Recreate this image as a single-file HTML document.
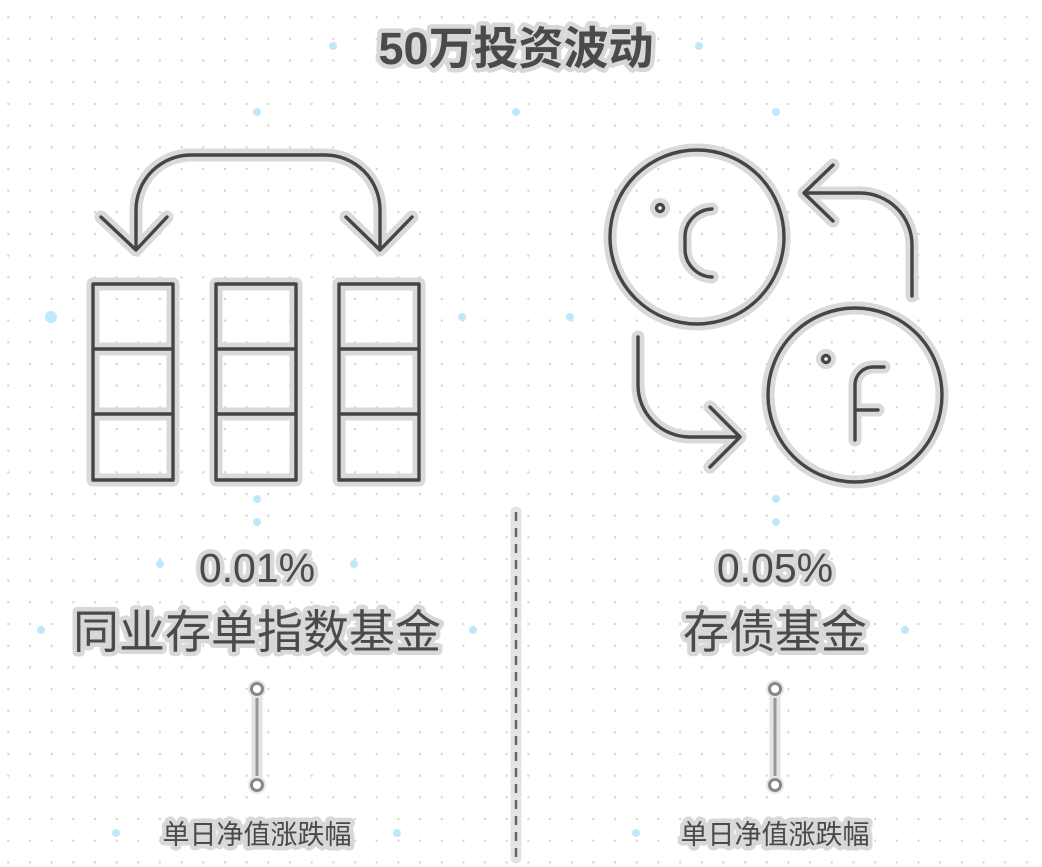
<!DOCTYPE html>
<html><head><meta charset="utf-8"><style>
html,body{margin:0;padding:0;background:#fff;}
svg{display:block}
text{font-family:"Liberation Sans","Noto Sans CJK SC",sans-serif;fill:#4a4a4a;stroke:#d8d8d8;stroke-width:9px;paint-order:stroke;stroke-linejoin:round;text-anchor:middle}
.h{fill:none;stroke:#d9d9d9;stroke-width:13;stroke-linecap:round;stroke-linejoin:round}
.s{fill:none;stroke:#454545;stroke-width:3.4;stroke-linecap:round;stroke-linejoin:round}
</style></head><body>
<svg width="1042" height="867" viewBox="0 0 1042 867">
<defs><pattern id="g" x="8.3" y="-4.4" width="21.67" height="21.67" patternUnits="userSpaceOnUse"><circle cx="0" cy="0" r="1.2" fill="#d4d4d4"/><circle cx="21.67" cy="0" r="1.2" fill="#d4d4d4"/><circle cx="0" cy="21.67" r="1.2" fill="#d4d4d4"/><circle cx="21.67" cy="21.67" r="1.2" fill="#d4d4d4"/></pattern>
<g id="L" fill="none">
<path d="M136 248 V210 A55 55 0 0 1 191 155 H325 A55 55 0 0 1 380 210 V248"/>
<path d="M101 217 L136 250 L167 217 M346 217 L380 250 L412 217"/>
<rect x="93" y="284" width="80" height="196"/><path d="M93 349H173M93 414H173"/>
<rect x="216" y="284" width="80" height="196"/><path d="M216 349H296M216 414H296"/>
<rect x="339" y="284" width="80" height="196"/><path d="M339 349H419M339 414H419"/>
</g>
<g id="R" fill="none">
<circle cx="697" cy="237" r="87"/><circle cx="855" cy="395" r="87"/>
<circle cx="660" cy="208" r="3.5"/><circle cx="826" cy="359" r="3.5"/>
<path d="M712 209 A28 28 0 0 0 685 236 V250 A28 28 0 0 0 712 277"/>
<path d="M855 440 V385 A18 18 0 0 1 873 367 H884 M855 410 H878"/>
<path d="M912 296 V245 A52 52 0 0 0 860 193 H804 M833 165 L804 193 L833 221"/>
<path d="M638 337 V385 A52 52 0 0 0 690 437 H740 M710 407 L740 437 L710 467"/>
</g></defs>
<rect width="1042" height="867" fill="url(#g)"/>
<g fill="#bfe9fb">
<circle cx="333" cy="46" r="4"/><circle cx="257" cy="112" r="4"/><circle cx="516" cy="112" r="4"/><circle cx="51" cy="317" r="6"/><circle cx="462" cy="317" r="4"/><circle cx="257" cy="499" r="4"/><circle cx="257" cy="522" r="4"/><circle cx="160" cy="564" r="4"/><circle cx="354" cy="564" r="4"/><circle cx="41" cy="630" r="4"/><circle cx="473" cy="630" r="4"/><circle cx="116" cy="833" r="4"/><circle cx="397" cy="833" r="4"/><circle cx="699" cy="46" r="4"/><circle cx="776" cy="112" r="4"/><circle cx="570" cy="317" r="4"/><circle cx="776" cy="499" r="4"/><circle cx="776" cy="522" r="4"/><circle cx="636" cy="833" r="4"/><circle cx="905" cy="630" r="4"/>
</g>
<use href="#L" class="h"/><use href="#R" class="h"/>
<use href="#L" class="s"/><use href="#R" class="s"/>
<line x1="516" y1="512" x2="516" y2="858" stroke="#e4e4e4" stroke-width="11" stroke-linecap="round"/>
<line x1="516" y1="512" x2="516" y2="858" stroke="#666" stroke-width="2.5" stroke-dasharray="9 7"/>
<g>
<line x1="257" y1="689" x2="257" y2="785" stroke="#e4e4e4" stroke-width="11"/><line x1="257" y1="689" x2="257" y2="785" stroke="#999" stroke-width="3"/>
<circle cx="257" cy="689" r="9" fill="#e6e6e6"/><circle cx="257" cy="785" r="9" fill="#e6e6e6"/>
<circle cx="257" cy="689" r="5.5" fill="#fff" stroke="#888" stroke-width="3"/><circle cx="257" cy="785" r="5.5" fill="#fff" stroke="#888" stroke-width="3"/>
<line x1="775" y1="689" x2="775" y2="785" stroke="#e4e4e4" stroke-width="11"/><line x1="775" y1="689" x2="775" y2="785" stroke="#999" stroke-width="3"/>
<circle cx="775" cy="689" r="9" fill="#e6e6e6"/><circle cx="775" cy="785" r="9" fill="#e6e6e6"/>
<circle cx="775" cy="689" r="5.5" fill="#fff" stroke="#888" stroke-width="3"/><circle cx="775" cy="785" r="5.5" fill="#fff" stroke="#888" stroke-width="3"/>
</g>
<text x="516" y="64" font-size="45" font-weight="bold">50万投资波动</text>
<text x="257" y="582" font-size="41">0.01%</text>
<text x="257" y="648" font-size="46">同业存单指数基金</text>
<text x="775" y="582" font-size="41">0.05%</text>
<text x="775" y="648" font-size="46">存债基金</text>
<text x="257" y="844" font-size="27" stroke-width="7">单日净值涨跌幅</text>
<text x="775" y="844" font-size="27" stroke-width="7">单日净值涨跌幅</text>
</svg>
</body></html>
